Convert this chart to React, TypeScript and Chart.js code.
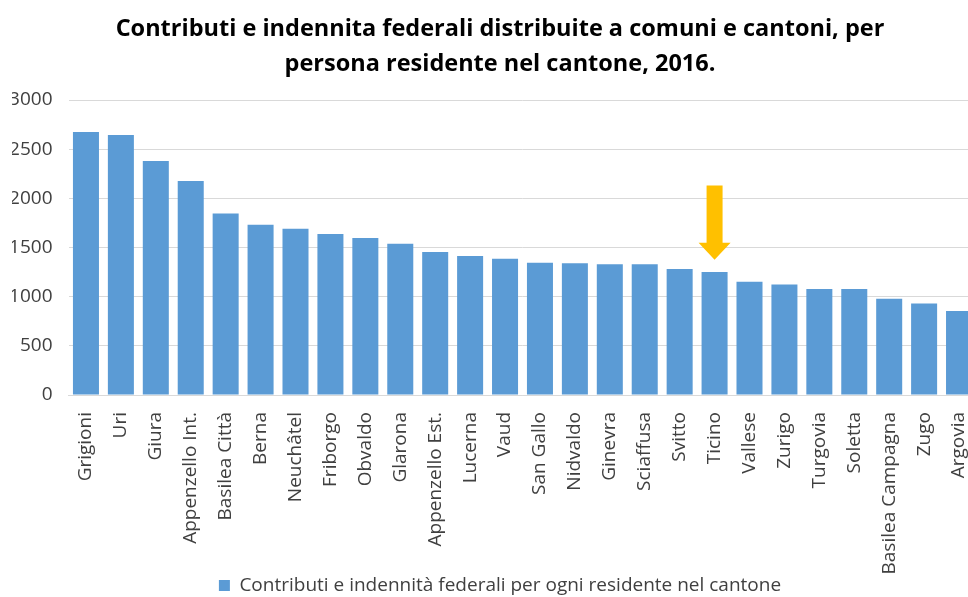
import React, { useEffect, useRef } from "react";
import { Chart, registerables } from "chart.js";

Chart.register(...registerables);

const titleLines = [
  "Contributi e indennita federali distribuite a comuni e cantoni, per",
  "persona residente nel cantone, 2016.",
];
const seriesLabel = "Contributi e indennità federali per ogni residente nel cantone";
const cantons = [
  "Grigioni", "Uri", "Giura", "Appenzello Int.", "Basilea Città", "Berna",
  "Neuchâtel", "Friborgo", "Obvaldo", "Glarona", "Appenzello Est.", "Lucerna",
  "Vaud", "San Gallo", "Nidvaldo", "Ginevra", "Sciaffusa", "Svitto", "Ticino",
  "Vallese", "Zurigo", "Turgovia", "Soletta", "Basilea Campagna", "Zugo", "Argovia",
];
const values = [
  2675, 2644, 2380, 2176, 1847, 1732, 1691, 1637, 1597, 1539, 1454, 1414,
  1386, 1345, 1339, 1329, 1329, 1281, 1251, 1152, 1125, 1078, 1078, 979, 931, 854,
];
const yTicks = [0, 500, 1000, 1500, 2000, 2500, 3000];
// highlight arrow (in value units) above the highlighted canton
const arrowCanton = "Ticino";
const arrowTop = 2130;
const arrowHeadStart = 1549;
const arrowTip = 1376;

const FONT = "'Open Sans', 'Noto Sans', sans-serif";
const TEXT = "#404040";

const arrowPlugin = {
  id: "arrowPlugin",
  afterDatasetsDraw(chart: any) {
    const idx = cantons.indexOf(arrowCanton);
    const meta = chart.getDatasetMeta(0);
    const el = meta.data[idx];
    if (!el) return;
    const y = chart.scales.y;
    const cx = el.x;
    const yTop = y.getPixelForValue(arrowTop);
    const yHead = y.getPixelForValue(arrowHeadStart);
    const yTip = y.getPixelForValue(arrowTip);
    const ctx = chart.ctx;
    ctx.save();
    ctx.fillStyle = "#FFC000";
    ctx.beginPath();
    ctx.moveTo(cx - 8, yTop);
    ctx.lineTo(cx + 8, yTop);
    ctx.lineTo(cx + 8, yHead);
    ctx.lineTo(cx + 16, yHead);
    ctx.lineTo(cx, yTip);
    ctx.lineTo(cx - 16, yHead);
    ctx.lineTo(cx - 8, yHead);
    ctx.closePath();
    ctx.fill();
    ctx.restore();
  },
};

export default function App() {
  const ref = useRef<HTMLCanvasElement>(null);
  useEffect(() => {
    if (!ref.current) return;
    const chart = new Chart(ref.current, {
      type: "bar",
      data: {
        labels: cantons,
        datasets: [
          {
            label: seriesLabel,
            data: values,
            backgroundColor: "#5B9BD5",
            categoryPercentage: 1,
            barPercentage: 0.745,
          },
        ],
      },
      options: {
        responsive: false,
        animation: false,
        layout: { padding: { left: 12, right: 8, top: 0, bottom: 0 } },
        plugins: {
          title: {
            display: true,
            text: titleLines,
            color: "#000000",
            font: { family: FONT, size: 23.5, weight: "bold", lineHeight: 1.5 },
            padding: { top: 11.4, bottom: 18.1 },
          },
          legend: {
            display: true,
            position: "bottom",
            maxHeight: 22,
            labels: {
              color: TEXT,
              font: { family: FONT, size: 19 },
              boxWidth: 11,
              boxHeight: 11,
              padding: 1,
            },
          },
          tooltip: { enabled: false },
        },
        scales: {
          x: {
            grid: { display: false },
            border: { display: true, color: "#D9D9D9" },
            ticks: {
              color: TEXT,
              font: { family: FONT, size: 19 },
              minRotation: 90,
              maxRotation: 90,
              autoSkip: false,
              padding: 9,
            },
            afterFit: (s: any) => {
              s.height = 180;
            },
          },
          y: {
            min: 0,
            max: 3000,
            afterBuildTicks: (s: any) => {
              s.ticks = yTicks.map((v) => ({ value: v }));
            },
            grid: { color: "#D9D9D9", drawTicks: false },
            border: { display: false },
            ticks: {
              color: TEXT,
              font: { family: FONT, size: 19 },
              padding: 16,
              callback: (v: any) => String(v),
            },
            afterFit: (s: any) => {
              s.width = 56.5;
            },
          },
          spacer: {
            type: "linear",
            position: "right",
            display: true,
            grid: { display: false, drawOnChartArea: false },
            border: { display: false },
            ticks: { display: false },
            afterFit: (s: any) => {
              s.width = 11.5;
            },
          },
        },
      },
      plugins: [arrowPlugin],
    });
    return () => chart.destroy();
  }, []);
  return (
    <div
      style={{
        position: "fixed",
        left: 0,
        top: 0,
        width: 968,
        height: 597,
        overflow: "hidden",
        background: "#ffffff",
      }}
    >
      <canvas ref={ref} width={996} height={597} style={{ width: 996, height: 597, display: "block" }} />
    </div>
  );
}
